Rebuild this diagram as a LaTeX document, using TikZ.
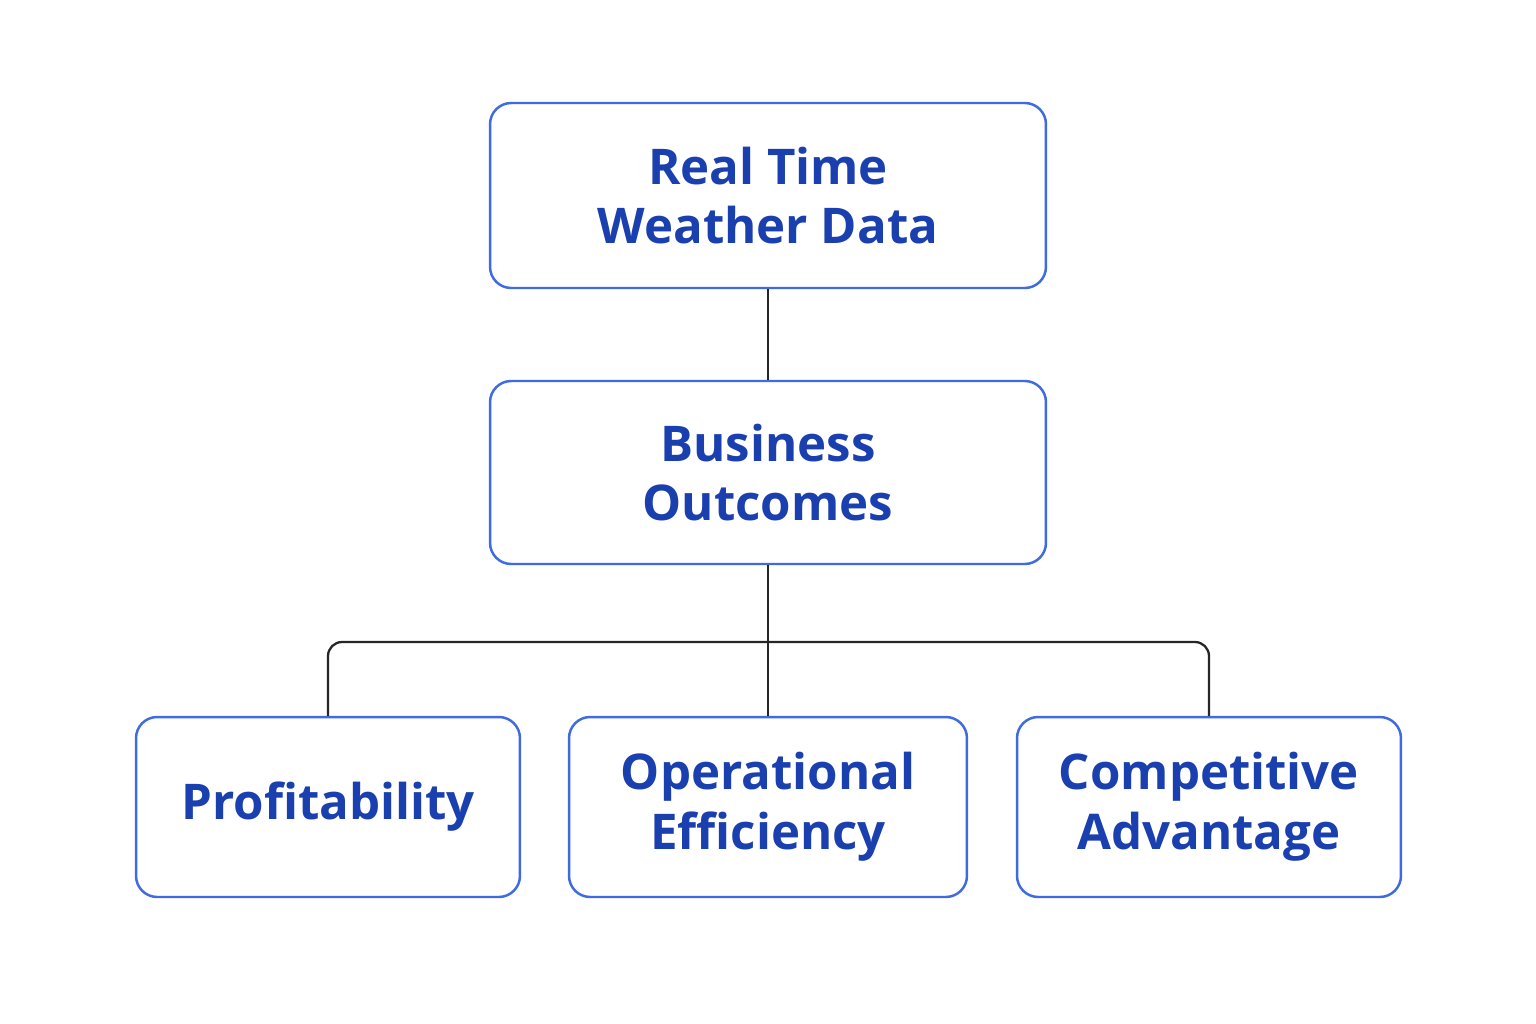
\documentclass[tikz,border=0pt]{standalone}
\usepackage{fontspec}
\setmainfont{Open Sans}
\definecolor{boxblue}{HTML}{3F6BE0}
\definecolor{textblue}{HTML}{1A3FAE}
\tikzset{
  box/.style={draw=boxblue, line width=1.4pt, rounded corners=12pt, fill=white,
    text=textblue, font=\fontsize{28}{34}\selectfont\bfseries, align=center, inner sep=0pt},
  link/.style={draw=black!85, line width=1.3pt}
}
\begin{document}
\begin{tikzpicture}[x=0.02cm, y=-0.02cm]
      \useasboundingbox (0,0) rectangle (1536,1024);

      \node[box, minimum width=11.12cm, minimum height=3.7cm] (data) at (768,195.5) {Real Time\\Weather Data};
      \node[box, minimum width=11.12cm, minimum height=3.66cm] (outcome) at (768,472.5) {Business\\Outcomes};

      \node[box, minimum width=7.68cm, minimum height=3.6cm] (profit) at (328,807) {Profitability};
      \node[box, minimum width=7.96cm, minimum height=3.6cm] (oper) at (768,807) {Operational\\Efficiency};
      \node[box, minimum width=7.68cm, minimum height=3.6cm] (compete) at (1209,807) {Competitive\\Advantage};

      \coordinate (bus) at (768,642);

      \draw[link] (data) -- (outcome);
      \draw[link] (outcome) -- (bus) -- (oper);
      \draw[link, rounded corners=8pt] (profit.north) |- (bus) -| (compete.north);
\end{tikzpicture}
\end{document}
